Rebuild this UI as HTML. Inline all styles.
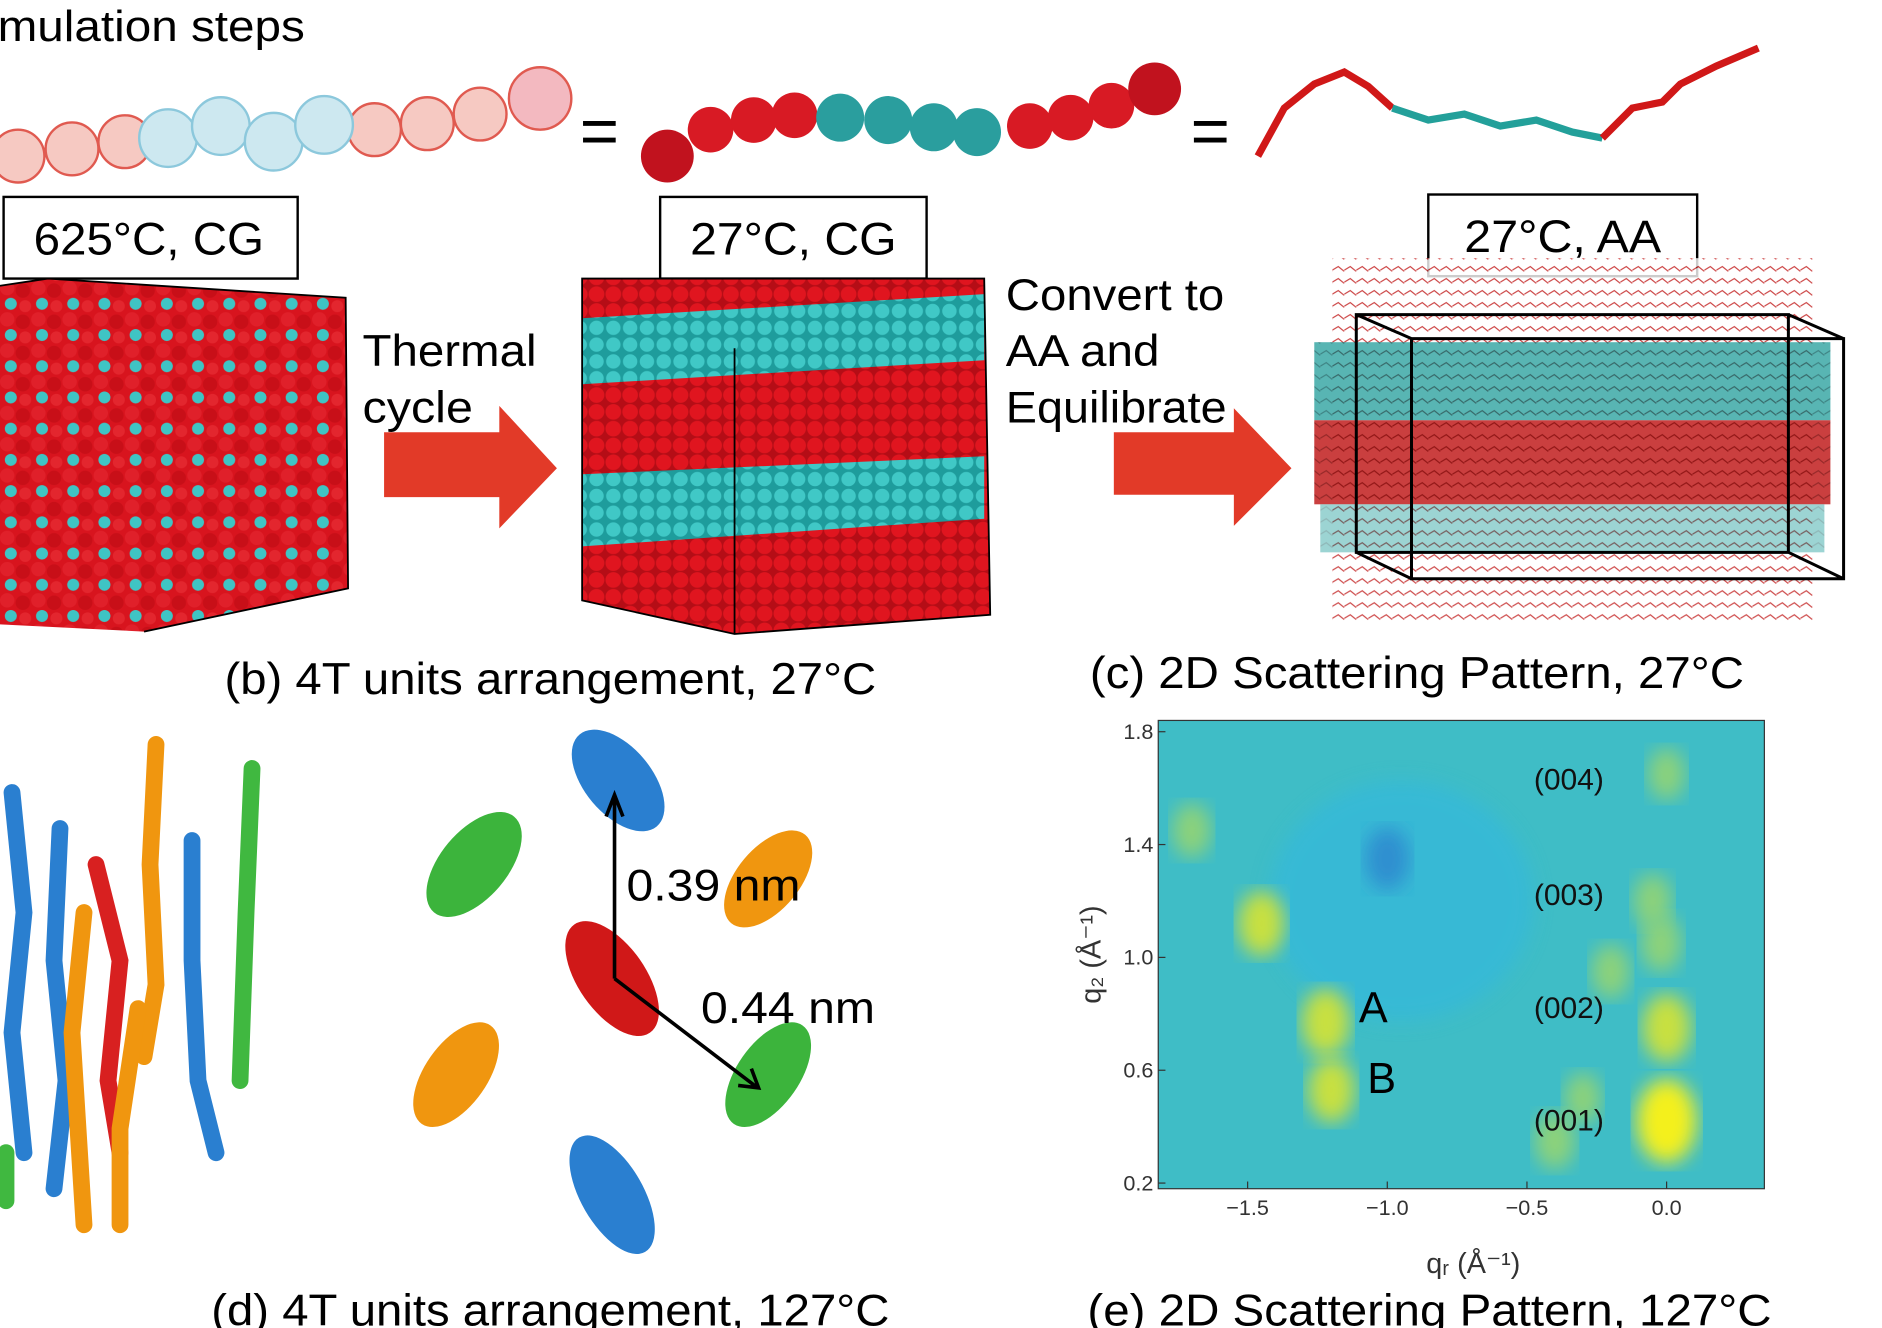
<!DOCTYPE html>
<html><head><meta charset="utf-8"><style>
html,body{margin:0;padding:0;background:#fff;}
svg{display:block;}
text{font-family:"Liberation Sans",sans-serif;}
</style></head><body>
<svg id="fig" width="1882" height="1328" viewBox="0 0 1568 1106" preserveAspectRatio="none" xmlns="http://www.w3.org/2000/svg">
<defs>
<pattern id="mix" width="26" height="26" patternUnits="userSpaceOnUse">
<rect width="26" height="26" fill="#d8141e"/>
<circle cx="6" cy="6" r="6" fill="#e0202a"/><circle cx="19" cy="8" r="6" fill="#c80f18"/>
<circle cx="9" cy="19" r="5" fill="#3fc4c4"/><circle cx="21" cy="21" r="5" fill="#e3262e"/>
</pattern>
<pattern id="cyan" width="14" height="14" patternUnits="userSpaceOnUse">
<rect width="14" height="14" fill="#1e9c9c"/><circle cx="7" cy="7" r="6" fill="#40c8c6"/>
</pattern>
<pattern id="red" width="14" height="14" patternUnits="userSpaceOnUse">
<rect width="14" height="14" fill="#b50d16"/><circle cx="7" cy="7" r="6.5" fill="#e0151f"/>
</pattern>
<pattern id="aa" width="10" height="10" patternUnits="userSpaceOnUse">
<rect width="10" height="10" fill="#fff"/><path d="M0 5 L5 2 L10 6" stroke="#c01818" fill="none"/>
</pattern>
<pattern id="aar" width="10" height="10" patternUnits="userSpaceOnUse">
<rect width="10" height="10" fill="#c42a2a"/><path d="M0 5 L5 2 L10 6" stroke="#8a1010" fill="none"/>
</pattern>
<pattern id="aac" width="10" height="10" patternUnits="userSpaceOnUse">
<rect width="10" height="10" fill="#3aa8a6"/><path d="M0 5 L5 2 L10 6" stroke="#1d6e6e" fill="none"/>
</pattern>
<filter id="blur"><feGaussianBlur stdDeviation="8"/></filter>
</defs>

<text x="-2" y="34" font-size="36" textLength="256" lengthAdjust="spacingAndGlyphs">mulation steps</text>

<g>
<g fill="#f6c9c2" stroke="#e05a50" stroke-width="2">
<circle cx="15" cy="130" r="22"/><circle cx="60" cy="124" r="22"/><circle cx="104" cy="118" r="22"/>
<circle cx="312" cy="108" r="22"/><circle cx="356" cy="103" r="22"/><circle cx="400" cy="95" r="22"/><circle cx="450" cy="82" r="26" fill="#f3b9c0"/>
</g>
<g fill="#cde8f0" stroke="#8cc8dc" stroke-width="2">
<circle cx="140" cy="115" r="24"/><circle cx="184" cy="105" r="24"/><circle cx="228" cy="118" r="24"/><circle cx="270" cy="104" r="24"/>
</g>
</g>
<text x="483" y="128" font-size="56">=</text>
<g>
<circle cx="556" cy="130" r="22" fill="#c1121e"/><circle cx="592" cy="108" r="19" fill="#d81a24"/><circle cx="628" cy="100" r="19" fill="#d81a24"/><circle cx="662" cy="96" r="19" fill="#d81a24"/>
<circle cx="700" cy="98" r="20" fill="#2a9e9e"/><circle cx="740" cy="100" r="20" fill="#2a9e9e"/><circle cx="778" cy="106" r="20" fill="#2a9e9e"/><circle cx="814" cy="110" r="20" fill="#2a9e9e"/>
<circle cx="858" cy="105" r="19" fill="#d81a24"/><circle cx="892" cy="98" r="19" fill="#d81a24"/><circle cx="926" cy="88" r="19" fill="#d81a24"/><circle cx="962" cy="74" r="22" fill="#c1121e"/>
</g>
<text x="992" y="128" font-size="56">=</text>
<g stroke-width="6" fill="none">
<path d="M1048 130 L1070 90 L1095 70 L1120 60 L1140 72 L1160 90" stroke="#d01818"/>
<path d="M1160 90 L1190 100 L1220 95 L1250 105 L1280 100 L1310 110 L1335 115" stroke="#23a09a"/>
<path d="M1335 115 L1360 90 L1385 85 L1400 70 L1430 55 L1465 40" stroke="#d01818"/>
</g>

<g><rect x="3" y="164" width="245" height="68" fill="#fff" stroke="#000" stroke-width="2"/><text x="28" y="212" font-size="38" textLength="192" lengthAdjust="spacingAndGlyphs">625°C, CG</text></g>
<g><rect x="550" y="164" width="222" height="68" fill="#fff" stroke="#000" stroke-width="2"/><text x="575" y="212" font-size="38" textLength="172" lengthAdjust="spacingAndGlyphs">27°C, CG</text></g>
<g><rect x="1190" y="162" width="224" height="68" fill="#fff" stroke="#000" stroke-width="2"/><text x="1220" y="210" font-size="38" textLength="164" lengthAdjust="spacingAndGlyphs">27°C, AA</text></g>

<g>
<polygon points="0,238 40,232 288,248 290,490 120,526 0,520" fill="url(#mix)"/>
<path d="M0 238 L40 232 L288 248 L290 490 L120 526" fill="none" stroke="#000" stroke-width="1.5"/>
</g>
<text x="302" y="305" font-size="37" textLength="145" lengthAdjust="spacingAndGlyphs">Thermal</text>
<text x="302" y="352" font-size="37" textLength="92" lengthAdjust="spacingAndGlyphs">cycle</text>
<polygon points="320,360 416,360 416,338 464,390 416,440 416,414 320,414" fill="#e23a28"/>

<g>
<polygon points="485,232 820,232 825,512 612,528 485,500" fill="url(#red)"/>
<polygon points="485,265 820,245 820,300 485,320" fill="url(#cyan)"/>
<polygon points="485,395 820,380 820,432 485,455" fill="url(#cyan)"/>
<path d="M485 232 L820 232 L825 512 L612 528 L485 500 Z M612 290 L612 528" fill="none" stroke="#000" stroke-width="1.5"/>
</g>
<text x="838" y="258" font-size="37" textLength="182" lengthAdjust="spacingAndGlyphs">Convert to</text>
<text x="838" y="305" font-size="37" textLength="128" lengthAdjust="spacingAndGlyphs">AA and</text>
<text x="838" y="352" font-size="37" textLength="184" lengthAdjust="spacingAndGlyphs">Equilibrate</text>
<polygon points="928,360 1028,360 1028,340 1076,390 1028,438 1028,412 928,412" fill="#e23a28"/>

<g>
<rect x="1110" y="215" width="400" height="305" fill="url(#aa)" opacity="0.8"/>
<rect x="1095" y="285" width="430" height="65" fill="url(#aac)" opacity="0.85"/>
<rect x="1095" y="350" width="430" height="70" fill="url(#aar)" opacity="0.9"/>
<rect x="1100" y="420" width="420" height="40" fill="url(#aac)" opacity="0.5"/>
<path d="M1130 262 L1490 262 L1490 460 L1130 460 Z M1176 282 L1536 282 L1536 482 L1176 482 Z M1130 262 L1176 282 M1490 262 L1536 282 M1490 460 L1536 482 M1130 460 L1176 482" fill="none" stroke="#000" stroke-width="2.5"/>
</g>

<text x="187" y="578" font-size="37" textLength="543" lengthAdjust="spacingAndGlyphs">(b) 4T units arrangement, 27°C</text>
<text x="908" y="573" font-size="37" textLength="545" lengthAdjust="spacingAndGlyphs">(c) 2D Scattering Pattern, 27°C</text>

<g fill="none" stroke-width="14" stroke-linecap="round">
<path d="M10 660 L20 760 L10 860 L20 960" stroke="#2a7fd0"/>
<path d="M50 690 L45 800 L55 900 L45 990" stroke="#2a7fd0"/>
<path d="M80 720 L100 800 L90 900 L100 960" stroke="#d82020"/>
<path d="M130 620 L125 720 L130 820 L120 880" stroke="#f0960f"/>
<path d="M70 760 L60 860 L70 1020" stroke="#f0960f"/>
<path d="M115 840 L100 940 L100 1020" stroke="#f0960f"/>
<path d="M160 700 L160 800 L165 900 L180 960" stroke="#2a7fd0"/>
<path d="M210 640 L205 760 L200 900" stroke="#40b840"/>
<path d="M5 960 L5 1000" stroke="#40b840"/>
</g>

<g>
<ellipse cx="515" cy="650" rx="28" ry="50" transform="rotate(-40 515 650)" fill="#2a7fd0"/>
<ellipse cx="395" cy="720" rx="28" ry="52" transform="rotate(40 395 720)" fill="#3cb43c"/>
<ellipse cx="640" cy="732" rx="26" ry="48" transform="rotate(40 640 732)" fill="#f0960f"/>
<ellipse cx="510" cy="815" rx="28" ry="55" transform="rotate(-35 510 815)" fill="#d01818"/>
<ellipse cx="380" cy="895" rx="26" ry="50" transform="rotate(35 380 895)" fill="#f0960f"/>
<ellipse cx="640" cy="895" rx="26" ry="50" transform="rotate(35 640 895)" fill="#3cb43c"/>
<ellipse cx="510" cy="995" rx="26" ry="55" transform="rotate(-30 510 995)" fill="#2a7fd0"/>
<path d="M512 815 L512 666 M505 680 L512 662 L519 680 M512 815 L630 905 M615 904 L632 906 L626 890" stroke="#000" stroke-width="3" fill="none"/>
</g>
<text x="522" y="750" font-size="37" textLength="145" lengthAdjust="spacingAndGlyphs">0.39 nm</text>
<text x="584" y="852" font-size="37" textLength="145" lengthAdjust="spacingAndGlyphs">0.44 nm</text>

<g id="chart"></g>

<text x="176" y="1104" font-size="37" textLength="565" lengthAdjust="spacingAndGlyphs">(d) 4T units arrangement, 127°C</text>
<text x="906" y="1104" font-size="37" textLength="570" lengthAdjust="spacingAndGlyphs">(e) 2D Scattering Pattern, 127°C</text>
</svg>
<script>
const xTicks = [-1.5, -1.0, -0.5, 0.0];
const xTickLabels = ["\u22121.5", "\u22121.0", "\u22120.5", "0.0"];
const yTicks = [0.2, 0.6, 1.0, 1.4, 1.8];
const yTickLabels = ["0.2", "0.6", "1.0", "1.4", "1.8"];
const blobQr = [0.0, 0.0, -0.02, -0.4, -1.22, -1.2, -1.45, -1.7, -0.2, -0.05, -1.0, -0.3, 0.0];
const blobQz = [0.42, 0.75, 1.05, 0.35, 0.77, 0.53, 1.12, 1.45, 0.95, 1.2, 1.35, 0.5, 1.65];
const blobVal = [1.0, 0.7, 0.5, 0.5, 0.7, 0.65, 0.65, 0.45, 0.45, 0.45, -0.6, 0.4, 0.4];
const peakLabels = ["(001)", "(002)", "(003)", "(004)"];
const peakQz = [0.42, 0.82, 1.22, 1.63];
const ns = "http://www.w3.org/2000/svg";
const L = 965, R = 1470, T = 600, B = 990;
const xMin = -1.82, xMax = 0.35, yMin = 0.18, yMax = 1.84;
function xs(v){ return L + (v - xMin) / (xMax - xMin) * (R - L); }
function ys(v){ return B - (v - yMin) / (yMax - yMin) * (B - T); }
function col(v){
  if (v < 0) return "#2f8fd0";
  if (v > 0.85) return "#f4f01c";
  if (v > 0.6) return "#c8e040";
  return "#8cd27a";
}
const g = document.getElementById("chart");
function mk(tag, attrs){ const e = document.createElementNS(ns, tag); for (const k in attrs) e.setAttribute(k, attrs[k]); g.appendChild(e); return e; }
const clip = document.createElementNS(ns, "clipPath");
clip.setAttribute("id", "plotclip");
const cr = document.createElementNS(ns, "rect");
cr.setAttribute("x", L); cr.setAttribute("y", T); cr.setAttribute("width", R - L); cr.setAttribute("height", B - T);
clip.appendChild(cr);
document.querySelector("defs").appendChild(clip);
const bg = mk("rect", {x: L, y: T, width: R - L, height: B - T, fill: "#3fbdc6"});


const inner = document.createElementNS(ns, "g");
inner.setAttribute("clip-path", "url(#plotclip)");
g.appendChild(inner);
const blue = document.createElementNS(ns, "ellipse");
blue.setAttribute("cx", xs(-0.95)); blue.setAttribute("cy", ys(1.2)); blue.setAttribute("rx", 110); blue.setAttribute("ry", 100);
blue.setAttribute("fill", "#33b8e0"); blue.setAttribute("filter", "url(#blur)"); blue.setAttribute("opacity", "0.6");


inner.appendChild(blue);
for (let i = 0; i < blobQr.length; i++) {
  const v = blobVal[i];
  const r = 9 + Math.abs(v) * 16;
  const e = document.createElementNS(ns, "ellipse");
  e.setAttribute("cx", xs(blobQr[i])); e.setAttribute("cy", ys(blobQz[i]));
  e.setAttribute("rx", r); e.setAttribute("ry", r * 1.4);
  e.setAttribute("fill", col(v)); e.setAttribute("filter", "url(#blur)");
  
  
  inner.appendChild(e);
}
const frame = mk("rect", {x: L, y: T, width: R - L, height: B - T, fill: "none", stroke: "#333", "stroke-width": 1});


xTicks.forEach((v, i) => {
  const x = xs(v);
  mk("line", {x1: x, x2: x, y1: B, y2: B - 6, stroke: "#333"});
  const t = mk("text", {x: x, y: B + 22, "font-size": 18, "text-anchor": "middle", "font-family": "Liberation Serif, serif", fill: "#333"});
  t.textContent = xTickLabels[i];
  
  
});
yTicks.forEach((v, i) => {
  const y = ys(v);
  mk("line", {x1: L, x2: L + 6, y1: y, y2: y, stroke: "#333"});
  const t = mk("text", {x: L - 4, y: y + 6, "font-size": 18, "text-anchor": "end", "font-family": "Liberation Serif, serif", fill: "#333"});
  t.textContent = yTickLabels[i];
  
  
});
peakLabels.forEach((s, i) => {
  const t = mk("text", {x: xs(-0.35), y: ys(peakQz[i]) + 8, "font-size": 25, "text-anchor": "middle", fill: "#111"});
  t.textContent = s;
  
  
});
const ta = mk("text", {x: xs(-1.05), y: ys(0.82) + 12, "font-size": 36, "text-anchor": "middle"});
ta.textContent = "A";


const tb = mk("text", {x: xs(-1.02), y: ys(0.57) + 12, "font-size": 36, "text-anchor": "middle"});
tb.textContent = "B";


const xl = mk("text", {x: (L + R) / 2 + 10, y: B + 70, "font-size": 24, "text-anchor": "middle", "font-family": "Liberation Serif, serif", fill: "#333"});
xl.textContent = "q\u1D63 (\u00C5\u207B\u00B9)";


const yl = mk("text", {x: 0, y: 0, "font-size": 24, "text-anchor": "middle", "font-family": "Liberation Serif, serif", fill: "#333", transform: "translate(917 795) rotate(-90)"});
yl.textContent = "q\u2082 (\u00C5\u207B\u00B9)";


</script>
</body></html>
